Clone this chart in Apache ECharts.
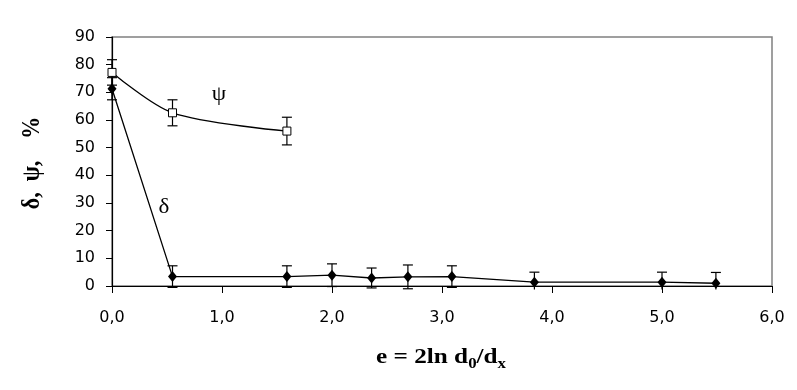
<!DOCTYPE html>
<html>
<head>
<meta charset="utf-8">
<script src="https://cdn.jsdelivr.net/npm/echarts@6/dist/echarts.min.js"></script>
<style>html,body{margin:0;padding:0;background:#fff}#c{width:797px;height:390px}</style>
</head>
<body>
<div id="c"></div>
<script>
const xDelta = [0, 0.55, 1.59, 2.0, 2.36, 2.69, 3.09, 3.84, 5.0, 5.49];
const yDelta = [71.3, 3.4, 3.4, 3.9, 2.9, 3.3, 3.4, 1.4, 1.4, 1.0];
const errDelta = [4.0, 3.9, 3.9, 4.1, 3.6, 4.3, 3.9, 3.6, 3.6, 3.9];
const xPsi = [0, 0.55, 1.59];
const yPsi = [77.2, 62.6, 56.0];
const errPsi = [4.6, 4.7, 5.0];
const xTicks = ['0,0','1,0','2,0','3,0','4,0','5,0','6,0'];
const yTicks = [0,10,20,30,40,50,60,70,80,90];

const chart = echarts.init(document.getElementById('c'), null, {renderer:'canvas'});

function errData(xs, ys, es){ return xs.map((x,i)=>[x, ys[i]-es[i], ys[i]+es[i]]); }
function errRender(params, api){
  const x = api.value(0), lo = api.value(1), hi = api.value(2);
  const floor = -1.3;
  const p1 = api.coord([x, hi]), p2 = api.coord([x, Math.max(lo, floor)]);
  const w = 5;
  const st = {stroke:'#000', lineWidth:1.2};
  const ch = [
    {type:'line', shape:{x1:p1[0],y1:p1[1],x2:p2[0],y2:p2[1]}, style:st},
    {type:'line', shape:{x1:p1[0]-w,y1:p1[1],x2:p1[0]+w,y2:p1[1]}, style:st}
  ];
  if (lo >= floor) ch.push({type:'line', shape:{x1:p2[0]-w,y1:p2[1],x2:p2[0]+w,y2:p2[1]}, style:st});
  return {type:'group', children:ch};
}

const lblFont = {fontFamily:'DejaVu Sans', fontSize:16, color:'#000'};

chart.setOption({
  animation:false,
  backgroundColor:'#fff',
  grid:{left:112, right:25, top:37, bottom:104, show:true, borderColor:'#808080', borderWidth:1.5, containLabel:false},
  xAxis:{type:'value', min:0, max:6, interval:1,
    axisLine:{lineStyle:{color:'#000', width:1.2}},
    axisTick:{show:true, inside:false, length:7, lineStyle:{color:'#000'}},
    splitLine:{show:false},
    axisLabel:Object.assign({margin:24, formatter:(v)=>xTicks[Math.round(v)]}, lblFont)
  },
  yAxis:{type:'value', min:0, max:90, interval:10,
    axisLine:{show:true, lineStyle:{color:'#000', width:1.2}},
    axisTick:{show:true, inside:false, length:6, lineStyle:{color:'#000'}},
    splitLine:{show:false},
    axisLabel:Object.assign({margin:17, formatter:(v)=>String(v)}, lblFont)
  },
  series:[
    {type:'custom', renderItem:errRender, data:errData(xDelta,yDelta,errDelta), clip:false, z:3, encode:{x:0,y:[1,2]}},
    {type:'custom', renderItem:errRender, data:errData(xPsi,yPsi,errPsi), clip:false, z:3, encode:{x:0,y:[1,2]}},
    {type:'line', data:xDelta.map((x,i)=>[x,yDelta[i]]), symbol:'diamond', symbolSize:[9,11],
      itemStyle:{color:'#000'}, lineStyle:{color:'#000', width:1.3}, z:4},
    {type:'line', data:xPsi.map((x,i)=>[x,yPsi[i]]), smooth:0.3, symbol:'rect', symbolSize:8,
      itemStyle:{color:'#fff', borderColor:'#000', borderWidth:1}, lineStyle:{color:'#000', width:1.3}, z:4}
  ],
  graphic:[
    {type:'text', x:219, y:95, scaleX:1.15, z:10, style:{text:'ψ', font:'20px "Liberation Serif"', fill:'#000', align:'center', verticalAlign:'middle'}},
    {type:'text', x:164, y:208, scaleX:1.15, z:10, style:{text:'δ', font:'20px "Liberation Serif"', fill:'#000', align:'center', verticalAlign:'middle'}},
    {type:'text', x:32, y:163, rotation:Math.PI/2, scaleY:1.15, z:10,
      style:{text:'δ,  ψ,    %', font:'bold 22px "Liberation Serif"', fill:'#000', align:'center', verticalAlign:'middle'}},
    {type:'text', x:441, y:358, scaleX:1.2, z:10,
      style:{text:'{m|e = 2ln d}{s|0}{m|/d}{s|x}', align:'center', verticalAlign:'middle',
        rich:{
          m:{fontFamily:'Liberation Serif', fontWeight:'bold', fontSize:21, color:'#000'},
          s:{fontFamily:'Liberation Serif', fontWeight:'bold', fontSize:14, color:'#000', padding:[12,0,0,0]}
        }}}
  ]
});
</script>
</body>
</html>
